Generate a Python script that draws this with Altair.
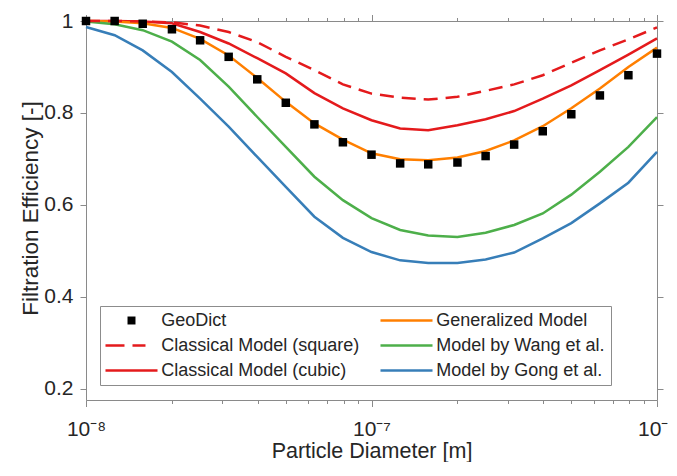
import altair as alt
import pandas as pd

# ---------------- data ----------------
diameter = [1.00e-8, 1.26e-8, 1.58e-8, 2.00e-8, 2.51e-8, 3.16e-8, 3.98e-8, 5.01e-8, 6.31e-8, 7.94e-8,
            1.00e-7, 1.26e-7, 1.58e-7, 2.00e-7, 2.51e-7, 3.16e-7, 3.98e-7, 5.01e-7, 6.31e-7, 7.94e-7,
            1.00e-6]

geodict = [1.000, 1.000, 0.994, 0.982, 0.958, 0.922, 0.873, 0.822, 0.775, 0.736, 0.709,
           0.690, 0.688, 0.692, 0.706, 0.731, 0.760, 0.797, 0.838, 0.882, 0.929]
classical_square = [1.000, 1.000, 0.999, 0.997, 0.990, 0.976, 0.954, 0.922, 0.893, 0.862, 0.842,
                    0.833, 0.829, 0.835, 0.848, 0.862, 0.882, 0.909, 0.936, 0.960, 0.986]
classical_cubic = [1.000, 1.000, 0.999, 0.995, 0.976, 0.951, 0.919, 0.886, 0.843, 0.810, 0.784,
                   0.766, 0.762, 0.773, 0.786, 0.804, 0.831, 0.860, 0.893, 0.927, 0.962]
generalized = [1.000, 0.999, 0.995, 0.985, 0.961, 0.925, 0.876, 0.824, 0.777, 0.742, 0.712,
               0.699, 0.697, 0.703, 0.717, 0.740, 0.771, 0.810, 0.853, 0.900, 0.942]
wang = [0.999, 0.993, 0.980, 0.955, 0.915, 0.857, 0.791, 0.726, 0.661, 0.610, 0.571,
        0.545, 0.533, 0.530, 0.539, 0.556, 0.581, 0.622, 0.672, 0.726, 0.791]
gong = [0.987, 0.969, 0.936, 0.889, 0.831, 0.770, 0.704, 0.639, 0.574, 0.528, 0.497,
        0.479, 0.473, 0.473, 0.481, 0.496, 0.527, 0.560, 0.603, 0.648, 0.715]

series_order = ["GeoDict", "Classical Model (square)", "Classical Model (cubic)",
                "Generalized Model", "Model by Wang et al.", "Model by Gong et al."]
series_colors = ["#000000", "#e41a1c", "#e41a1c", "#ff7f00", "#4daf4a", "#377eb8"]

solid_series = ["Classical Model (cubic)", "Generalized Model",
                "Model by Wang et al.", "Model by Gong et al."]
solid_values = [classical_cubic, generalized, wang, gong]
dashed_series = "Classical Model (square)"

x_ticks = [1e-8, 2e-8, 3e-8, 4e-8, 5e-8, 6e-8, 7e-8, 8e-8, 9e-8,
           1e-7, 2e-7, 3e-7, 4e-7, 5e-7, 6e-7, 7e-7, 8e-7, 9e-7, 1e-6]
y_ticks = [0.2, 0.4, 0.6, 0.8, 1.0]

solid_df = pd.DataFrame([
    {"d": d, "eff": v, "series": name}
    for name, vals in zip(solid_series, solid_values)
    for d, v in zip(diameter, vals)
])
dashed_df = pd.DataFrame({"d": diameter, "eff": classical_square, "series": dashed_series})
points_df = pd.DataFrame({"d": diameter, "eff": geodict, "series": "GeoDict"})

# ---------------- styling ----------------
FONT = "Liberation Sans, Arial, Helvetica, sans-serif"
AXIS_GRAY = "#8a8a8a"
TEXT = "#262626"
major_test = "indexof([1e-8, 1e-7, 1e-6], datum.value) >= 0"
tick_size = {"condition": {"test": major_test, "value": 6.5}, "value": 3.5}
x_label_expr = ("datum.value == 1e-8 ? '10⁻⁸' : datum.value == 1e-7 ? '10⁻⁷' : "
                "datum.value == 1e-6 ? '10⁻⁶' : ''")

# legend glyphs: a small filled square for GeoDict, a long line for every model
symbol_type_expr = ("datum.value == 'GeoDict' ? 'M-1.33,-1.33H1.33V1.33H-1.33Z' : "
                    "'M-8.67,0H8.67'")
symbol_fill_expr = "datum.value == 'GeoDict' ? 'black' : 'transparent'"
symbol_width_expr = "datum.value == 'GeoDict' ? 0 : 2.5"
symbol_dash_expr = "datum.value == 'Classical Model (square)' ? [19, 8, 13, 100] : [1, 0]"

x_scale = alt.Scale(type="log", domain=[1e-8, 1e-6], nice=False)
y_scale = alt.Scale(domain=[0.175, 1.0], nice=False, zero=False)
color_scale = alt.Scale(domain=series_order, range=series_colors)

legend_def = alt.Legend(
    title=None, orient="none", legendX=14, legendY=285, columns=2, direction="vertical",
    labelFont=FONT, labelFontSize=18, labelColor=TEXT, labelLimit=400,
    labelOffset=20.7, symbolOffset=17, symbolSize=36,
    symbolType=alt.ExprRef(symbol_type_expr),
    symbolFillColor=alt.ExprRef(symbol_fill_expr), symbolDash=alt.ExprRef(symbol_dash_expr),
    symbolStrokeWidth=alt.ExprRef(symbol_width_expr),
    symbolOpacity=1, columnPadding=15, rowPadding=7, padding=5.5,
    strokeColor="#8c8c8c", fillColor="white",
)

bottom_axis = alt.Axis(
    orient="bottom", values=x_ticks, labelExpr=x_label_expr, tickSize=tick_size,
    labelOverlap=False, labelFlush=False, labelBound=False, labelPadding=12,
    labelFont=FONT, labelFontSize=21, labelColor=TEXT, grid=False,
    domainColor=AXIS_GRAY, tickColor=AXIS_GRAY, tickWidth=1, domainWidth=1,
    title="Particle Diameter [m]", titleFont=FONT, titleFontSize=21.5,
    titleFontWeight="normal", titleColor=TEXT, titleY=57, titleBaseline="alphabetic",
)
left_axis = alt.Axis(
    orient="left", values=y_ticks, format="~g", tickSize=6, labelPadding=7,
    labelFont=FONT, labelFontSize=21, labelColor=TEXT, grid=False,
    domainColor=AXIS_GRAY, tickColor=AXIS_GRAY, tickWidth=1, domainWidth=1,
    title="Filtration Efficiency [-]", titleFont=FONT, titleFontSize=22.5,
    titleFontWeight="normal", titleColor=TEXT, titleAngle=270, titleAlign="center",
    titleBaseline="alphabetic", titleX=-49, titleY=187,
)
top_axis = alt.Axis(
    orient="top", values=x_ticks, tickSize=tick_size, labels=False, title=None,
    grid=False, domainColor=AXIS_GRAY, tickColor=AXIS_GRAY, tickWidth=1, domainWidth=1,
)
right_axis = alt.Axis(
    orient="right", values=y_ticks, tickSize=6, labels=False, title=None,
    grid=False, domainColor=AXIS_GRAY, tickColor=AXIS_GRAY, tickWidth=1, domainWidth=1,
)

# legend owner layer comes first; other layers leave the legend unspecified so they merge into it
solid = alt.Chart(solid_df).mark_line(strokeWidth=2.5, clip=False).encode(
    x=alt.X("d:Q", scale=x_scale, axis=bottom_axis),
    y=alt.Y("eff:Q", scale=y_scale, axis=left_axis),
    color=alt.Color("series:N", scale=color_scale, legend=legend_def),
    detail="series:N",
)

dashed = alt.Chart(dashed_df).mark_line(strokeWidth=2.5, strokeDash=[14, 8], clip=False).encode(
    x=alt.X("d:Q", scale=x_scale, axis=None),
    y=alt.Y("eff:Q", scale=y_scale, axis=None),
    color=alt.Color("series:N", scale=color_scale),
)

points = alt.Chart(points_df).mark_point(filled=True, shape="square", opacity=1, size=72).encode(
    x=alt.X("d:Q", scale=x_scale, axis=top_axis),
    y=alt.Y("eff:Q", scale=y_scale, axis=right_axis),
    color=alt.Color("series:N", scale=color_scale),
)

chart = alt.layer(solid, dashed, points).properties(
    width=571, height=379,
    autosize=alt.AutoSizeParams(type="none"),
    padding={"left": 78, "top": 13, "right": 12, "bottom": 62},
).configure_view(stroke=None).configure(background="white")

chart.save("out.html", embed_options={"renderer": "svg", "actions": False})
